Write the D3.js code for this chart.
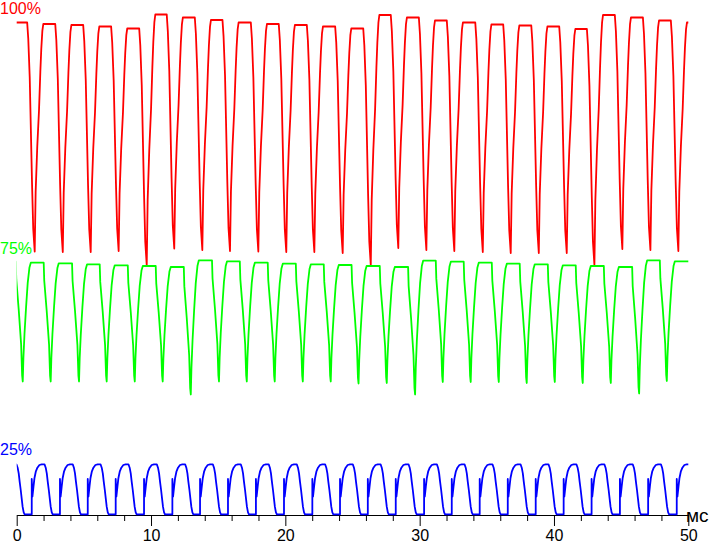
<!DOCTYPE html>
<html>
<head>
<meta charset="utf-8">
<script src="https://cdn.jsdelivr.net/npm/d3@7"></script>
<style>
  body { margin: 0; background: #fff; }
  text { font-family: "Liberation Sans", Arial, sans-serif; }
</style>
</head>
<body>
<svg id="chart" width="715" height="543"></svg>
<script>
// time axis, ms
const tickMajor = [0, 10, 20, 30, 40, 50];
const tickMinor = [2, 4, 6, 8, 12, 14, 16, 18, 22, 24, 26, 28, 32, 34, 36, 38, 42, 44, 46, 48];
const unitLabel = "мс";

const seriesNames = ["100%", "75%", "25%"];
const seriesColors = ["#ff0000", "#00ff00", "#0000ff"];
// level (same units as the traces) where each name sits
const seriesLabelV = [100.3, 52.2, 12.0];

// red trace (100%): trough times, trough levels, plateau levels
const redTroughT = [1.34, 3.43, 5.51, 7.59, 9.68, 11.73, 13.82, 15.88, 17.99, 20.07, 22.16, 24.27, 26.36, 28.41, 30.50, 32.58, 34.70, 36.78, 38.87, 40.95, 43.01, 45.09, 47.18, 49.26];
const redTroughV = [52.7, 52.6, 52.6, 52.8, 50.0, 53.3, 53.0, 52.8, 52.7, 52.6, 52.6, 52.4, 50.0, 53.4, 53.0, 52.8, 52.6, 52.4, 52.4, 52.4, 50.0, 53.2, 53.0, 52.8];
const redTopV = [98.5, 98.2, 98.0, 97.7, 97.3, 100.1, 99.5, 99.0, 98.5, 98.2, 98.0, 97.7, 97.3, 100.0, 99.5, 98.9, 98.5, 98.1, 97.9, 97.7, 97.2, 100.0, 99.5, 98.9, 98.5];
// edge shape around a trough (ms offset, fraction of the way up)
const redFallT = [-0.56, -0.48, -0.37, -0.30, -0.20, -0.11, 0];
const redFallF = [1, 0.93, 0.76, 0.57, 0.30, 0.10, 0];
const redRiseT = [0.07, 0.19, 0.32, 0.42, 0.49, 0.57, 0.64];
const redRiseF = [0.26, 0.46, 0.62, 0.79, 0.89, 0.97, 1];

// green trace (75%)
const greenTroughT = [0.45, 2.53, 4.64, 6.70, 8.79, 10.87, 12.96, 15.06, 17.13, 19.21, 21.30, 23.38, 25.45, 27.55, 29.66, 31.72, 33.80, 35.89, 37.97, 40.06, 42.14, 44.23, 46.34, 48.40];
const greenTroughV = [26.7, 26.7, 26.7, 26.7, 26.7, 26.7, 24.1, 26.7, 26.7, 26.7, 26.7, 26.7, 26.3, 26.4, 24.1, 26.6, 26.6, 26.6, 26.4, 26.6, 26.4, 26.4, 24.3, 26.8];
const greenTopV = [50.66, 50.46, 50.34, 50.14, 49.94, 49.8, 49.6, 50.94, 50.74, 50.46, 50.26, 50.14, 50.0, 49.8, 49.6, 50.86, 50.66, 50.46, 50.26, 50.14, 49.94, 49.8, 49.6, 50.94, 50.74];
const greenFallT = [-0.52, -0.48, -0.30, -0.12, -0.045, 0];
const greenFallF = [1, 0.85, 0.6, 0.31, 0.05, 0];
const greenRiseT = [0.05, 0.13, 0.25, 0.37, 0.50, 0.60];
const greenRiseF = [0.2, 0.4, 0.63, 0.83, 0.96, 1];

// blue trace (25%): start of each pulse, and one pulse shape
const blueRiseT = [-0.97, 1.12, 3.22, 5.29, 7.37, 9.48, 11.59, 13.65, 15.73, 17.81, 19.90, 22.01, 24.07, 26.14, 28.22, 30.33, 32.39, 34.47, 36.56, 38.64, 40.72, 42.80, 44.91, 47.01, 49.14];
const blueShapeT = [0, 0, 0.05, 0.13, 0.20, 0.30, 0.42, 0.57, 0.74, 0.95, 1.04, 1.12, 1.19, 1.27, 1.34, 1.41, 1.49, 1.56];
const blueShapeV = [0.14, 7.2, 3.66, 5.66, 7.34, 8.66, 9.46, 10.0, 10.14, 10.14, 9.46, 8.34, 6.66, 5.0, 3.34, 1.66, 0.54, 0.14];

const width = 715, height = 543;
const svg = d3.select("#chart");

const x = d3.scaleLinear().domain([0, 50]).range([16.7, 688.3]);
const y = d3.scaleLinear().domain([0, 100]).range([515, 15]);

function troughPoints(troughT, troughV, topV, fallT, fallF, riseT, riseF) {
  var pts = [[-1, topV[0]]];
  troughT.forEach((t, i) => {
    fallT.forEach((dt, k) => pts.push([t + dt, troughV[i] + fallF[k] * (topV[i] - troughV[i])]));
    riseT.forEach((dt, k) => pts.push([t + dt, troughV[i] + riseF[k] * (topV[i + 1] - troughV[i])]));
  });
  pts.push([51, topV[topV.length - 1]]);
  return pts;
}

function pulsePoints(startT, shapeT, shapeV) {
  var pts = [];
  startT.forEach(t => {
    shapeT.forEach((dt, k) => pts.push([t + dt, shapeV[k]]));
  });
  pts.push([51, shapeV[shapeV.length - 1]]);
  return pts;
}

const traces = [
  troughPoints(redTroughT, redTroughV, redTopV, redFallT, redFallF, redRiseT, redRiseF),
  troughPoints(greenTroughT, greenTroughV, greenTopV, greenFallT, greenFallF, greenRiseT, greenRiseF),
  pulsePoints(blueRiseT, blueShapeT, blueShapeV)
];

svg.append("defs").append("clipPath").attr("id", "plot")
  .append("rect")
  .attr("x", x(0)).attr("y", 0)
  .attr("width", x(50) - x(0)).attr("height", height);

// axis
const axis = svg.append("g").attr("transform", `translate(0,${y(0)})`);
axis.call(d3.axisBottom(x).tickValues(tickMajor).tickSize(11).tickSizeOuter(0).tickPadding(4).tickFormat(d3.format("d")));
axis.selectAll("path, line").attr("stroke", "#000");
axis.selectAll("text").style("font-size", "16px").attr("fill", "#000");
axis.selectAll(".minor").data(tickMinor).join("line")
  .attr("class", "minor")
  .attr("x1", d => x(d) + 0.5).attr("x2", d => x(d) + 0.5)
  .attr("y1", 0.5).attr("y2", 6)
  .attr("stroke", "#000");
axis.append("text")
  .attr("x", x(50) + 9).attr("y", 7)
  .style("font-size", "19px").attr("fill", "#000")
  .text(unitLabel);

const line = d3.line().x(d => x(d[0])).y(d => y(d[1]));

svg.append("g").attr("clip-path", "url(#plot)")
  .selectAll("path").data(traces).join("path")
  .attr("fill", "none")
  .attr("stroke", (d, i) => seriesColors[i])
  .attr("stroke-width", 1.8)
  .attr("stroke-linejoin", "round")
  .attr("d", line);

svg.selectAll(".name").data(seriesNames).join("text")
  .attr("class", "name")
  .attr("x", 0)
  .attr("y", (d, i) => y(seriesLabelV[i]))
  .style("font-size", "16px")
  .attr("fill", (d, i) => seriesColors[i])
  .text(d => d);
</script>
</body>
</html>
